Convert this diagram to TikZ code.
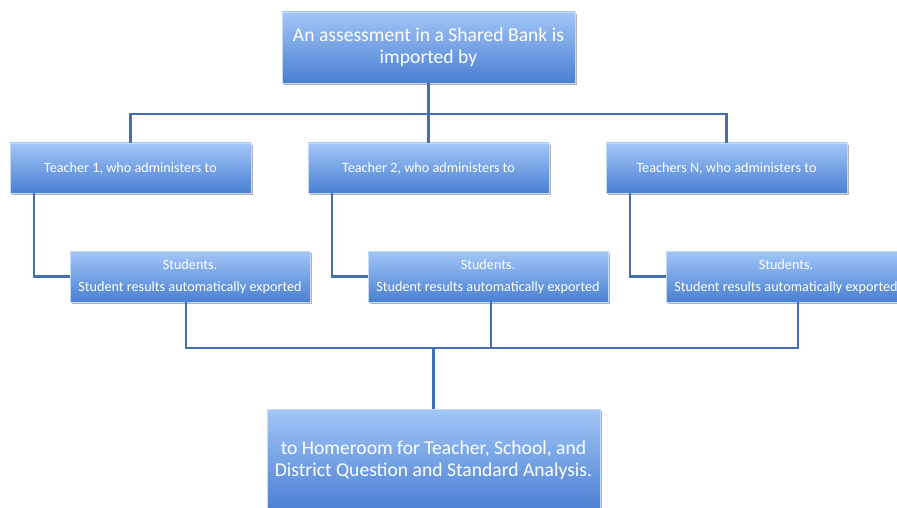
\documentclass[tikz,border=0pt]{standalone}
\usepackage{fontspec}
\setmainfont{Carlito}
\usetikzlibrary{shadows}
\definecolor{boxtop}{HTML}{A2C6F7}
\definecolor{boxbot}{HTML}{4A7FD2}
\definecolor{boxedge}{HTML}{C6DBF8}
\definecolor{linec}{HTML}{4170B0}
\tikzset{
  box/.style={draw=boxedge, line width=0.8pt, top color=boxtop, bottom color=boxbot,
    text=white, align=center, inner sep=0pt,
    drop shadow={shadow xshift=1.5pt, shadow yshift=-1.8pt, fill=black, opacity=0.3}},
  bigbox/.style={box, font=\fontsize{19.6}{22}\selectfont},
  smallbox/.style={box, font=\fontsize{14.2}{22}\selectfont, minimum width=241pt},
  conn/.style={draw=linec, line width=2.6pt},
}
\begin{document}
\begin{tikzpicture}[x=1pt,y=-1pt]
\useasboundingbox (0,0) rectangle (897,508);
\fill[white] (0,0) rectangle (897,508);
\clip (0,0) rectangle (897,508);
% nodes
\node[bigbox, minimum width=293pt, minimum height=71pt] (top) at (428.5,47.5)
  {An assessment in a Shared Bank is\\imported by};
\node[smallbox, minimum height=50pt] (t1) at (130.5,168) {Teacher 1, who administers to};
\node[smallbox, minimum height=50pt] (t2) at (428.5,168) {Teacher 2, who administers to};
\node[smallbox, minimum height=50pt] (tN) at (726.5,168) {Teachers N, who administers to};
\node[smallbox, minimum width=240pt, minimum height=51pt] (s1) at (190,276.5)
  {Students.\\Student results automatically exported};
\node[smallbox, minimum width=240pt, minimum height=51pt] (s2) at (488,276.5)
  {Students.\\Student results automatically exported};
\node[smallbox, minimum width=240pt, minimum height=51pt] (sN) at (786,276.5)
  {Students.\\Student results automatically exported};
\node[bigbox, minimum width=333pt, minimum height=102pt] (b) at (433.5,460)
  {to Homeroom for Teacher, School, and\\District Question and Standard Analysis.};
% connectors
\coordinate (tj) at (428.5,114);
\coordinate (bj) at (433.5,348);
\draw[conn] (top.south) -- (t2.north);
\draw[conn] (t1.north) |- (tN.north |- tj) -- (tN.north);
\draw[conn] ([xshift=-96.5pt]t1.south) |- (s1.west);
\draw[conn] ([xshift=-96.5pt]t2.south) |- (s2.west);
\draw[conn] ([xshift=-96.5pt]tN.south) |- (sN.west);
\draw[conn] ([xshift=-4pt]s1.south) |- ([xshift=12pt]sN.south |- bj) -- ([xshift=12pt]sN.south);
\draw[conn] ([xshift=3pt]s2.south) -- ([xshift=3pt]s2.south |- bj);
\draw[conn] (bj) -- (b.north);
\end{tikzpicture}
\end{document}
